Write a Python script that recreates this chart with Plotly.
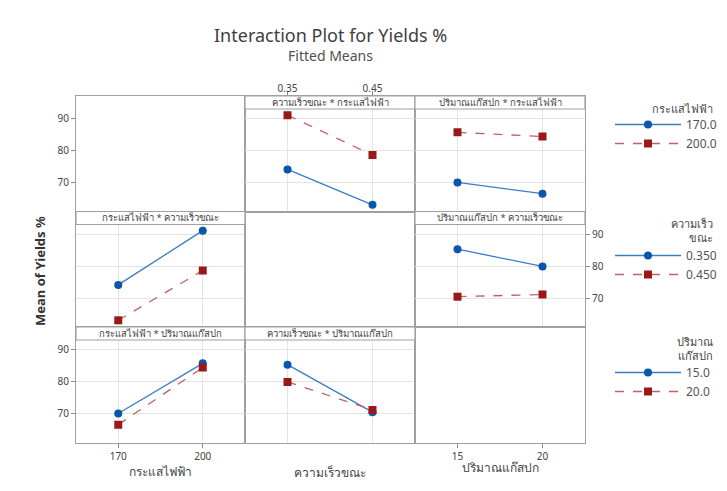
import plotly.graph_objects as go

# Factor levels
current_levels = [170, 200]
speed_levels = [0.35, 0.45]
gas_levels = [15, 20]

current_names = ["170.0", "200.0"]
speed_names = ["0.350", "0.450"]
gas_names = ["15.0", "20.0"]

current_title = "กระแสไฟฟ้า"
speed_title = "ความเร็วขณะ"
gas_title = "ปริมาณแก๊สปก"

# Fitted means for each two-way combination
# mean_current_speed[i][j]: current level i, speed level j
mean_current_speed = [[74.2, 63.1], [91.2, 78.7]]
# mean_current_gas[i][j]: current level i, gas level j
mean_current_gas = [[70.1, 66.6], [85.8, 84.5]]
# mean_speed_gas[i][j]: speed level i, gas level j
mean_speed_gas = [[85.4, 80.0], [70.5, 71.2]]

y_ticks = [70, 80, 90]

W, H = 727, 491
col_px = [(76, 245), (245, 415), (415, 585)]
row_px = [(96, 211.5), (211.5, 327), (327, 442.5)]
strip_h = 13

BLUE_M = "#0A56A8"
BLUE_L = "#3C7CC4"
RED_M = "#9A1818"
RED_L = "#BC6464"
GRID = "#E4E4E4"
FRAME = "#A0A0A0"
TXT = "#444444"
FONT = "Noto Sans, DejaVu Sans, sans-serif"

col_levels = [current_levels, speed_levels, gas_levels]
x_ranges = []
for lv in col_levels:
    span = lv[1] - lv[0]
    x_ranges.append([lv[0] - 0.5 * span, lv[1] + 0.5 * span])
y_range = [61.0, 97.2]


def ax_id(r, c):
    return r * 3 + c + 1


def xref(k):
    return "x" if k == 1 else f"x{k}"


def yref(k):
    return "y" if k == 1 else f"y{k}"


fig = go.Figure()

# (row, col, x levels, series list, names, legend, strip text)
panels = [
    (0, 1, speed_levels, mean_current_speed, current_names, "legend",
     f"{speed_title} * {current_title}"),
    (0, 2, gas_levels, mean_current_gas, current_names, "legend",
     f"{gas_title} * {current_title}"),
    (1, 0, current_levels,
     [[mean_current_speed[0][j], mean_current_speed[1][j]] for j in range(2)],
     speed_names, "legend2", f"{current_title} * {speed_title}"),
    (1, 2, gas_levels, mean_speed_gas, speed_names, "legend2",
     f"{gas_title} * {speed_title}"),
    (2, 0, current_levels,
     [[mean_current_gas[0][j], mean_current_gas[1][j]] for j in range(2)],
     gas_names, "legend3", f"{current_title} * {gas_title}"),
    (2, 1, speed_levels,
     [[mean_speed_gas[0][j], mean_speed_gas[1][j]] for j in range(2)],
     gas_names, "legend3", f"{speed_title} * {gas_title}"),
]

shown = set()
for r, c, xs, series, names, leg, strip in panels:
    k = ax_id(r, c)
    for i, ys in enumerate(series):
        blue = i == 0
        key = (leg, i)
        fig.add_trace(go.Scatter(
            x=xs, y=ys, mode="lines+markers",
            xaxis=xref(k), yaxis=yref(k),
            name=names[i], legend=leg,
            showlegend=key not in shown,
            line=dict(color=BLUE_L if blue else RED_L, width=1.3,
                      dash="solid" if blue else "dash"),
            marker=dict(color=BLUE_M if blue else RED_M,
                        symbol="circle" if blue else "square", size=8),
        ))
        shown.add(key)

data_cells = {(r, c) for r, c, *_ in panels}

# Empty diagonal cells still get a framed subplot
for d in range(3):
    k = ax_id(d, d)
    fig.add_trace(go.Scatter(x=[], y=[], xaxis=xref(k), yaxis=yref(k),
                             showlegend=False, hoverinfo="skip"))

layout = dict(
    width=W, height=H, autosize=False,
    margin=dict(l=0, r=0, t=0, b=0),
    paper_bgcolor="white", plot_bgcolor="white",
    font=dict(family=FONT, color=TXT, size=10),
    shapes=[], annotations=[],
)

for r in range(3):
    for c in range(3):
        k = ax_id(r, c)
        x0, x1 = col_px[c]
        y0, y1 = row_px[r]
        has_data = (r, c) in data_cells
        xa = dict(
            domain=[x0 / W, x1 / W], range=x_ranges[c],
            anchor=yref(k), tickvals=col_levels[c],
            showgrid=has_data, gridcolor=GRID, gridwidth=1,
            zeroline=False, showline=True, mirror=True,
            linecolor=FRAME, linewidth=1.2,
            showticklabels=False, ticks="",
            tickfont=dict(size=10, color=TXT),
        )
        ya = dict(
            domain=[1 - y1 / H, 1 - y0 / H], range=y_range,
            anchor=xref(k), tickvals=y_ticks,
            showgrid=has_data, gridcolor=GRID, gridwidth=1,
            zeroline=False, showline=True, mirror=True,
            linecolor=FRAME, linewidth=1.2,
            showticklabels=False, ticks="",
            tickfont=dict(size=10, color=TXT),
        )
        # Outer tick labels
        if r == 2 and c in (0, 2):
            xa.update(showticklabels=True, ticks="outside", ticklen=4,
                      tickcolor="#888888")
        if r == 0 and c == 1:
            xa.update(showticklabels=True, ticks="outside", ticklen=4,
                      tickcolor="#888888", side="top", tickformat=".2f",
                      ticklabelstandoff=-5)
        if c == 0 and r in (0, 2):
            ya.update(showticklabels=True, ticks="outside", ticklen=4,
                      tickcolor="#888888")
        if c == 2 and r == 1:
            ya.update(showticklabels=True, ticks="outside", ticklen=4,
                      tickcolor="#888888", side="right")
        layout["xaxis" if k == 1 else f"xaxis{k}"] = xa
        layout["yaxis" if k == 1 else f"yaxis{k}"] = ya

# Strip headers over each data panel
for r, c, xs, series, names, leg, strip in panels:
    x0, x1 = col_px[c]
    y0, _ = row_px[r]
    layout["shapes"].append(dict(
        type="rect", xref="paper", yref="paper", layer="above",
        x0=x0 / W, x1=x1 / W, y0=1 - (y0 + strip_h) / H, y1=1 - y0 / H,
        fillcolor="white", line=dict(color=FRAME, width=1.2),
    ))
    layout["annotations"].append(dict(
        text=strip, xref="paper", yref="paper",
        x=(x0 + x1) / 2 / W, y=1 - (y0 + strip_h / 2) / H,
        xanchor="center", yanchor="middle", showarrow=False,
        font=dict(size=9.5, color=TXT),
    ))

# Titles
layout["annotations"] += [
    dict(text="Interaction Plot for Yields %", xref="paper", yref="paper",
         x=330 / W, y=1 - 35 / H, xanchor="center", yanchor="middle",
         showarrow=False, font=dict(size=18, color="#404040")),
    dict(text="Fitted Means", xref="paper", yref="paper",
         x=330 / W, y=1 - 55 / H, xanchor="center", yanchor="middle",
         showarrow=False, font=dict(size=14, color="#505050")),
    dict(text="<b>Mean of Yields %</b>", xref="paper", yref="paper",
         x=40 / W, y=1 - 271 / H, xanchor="center", yanchor="middle",
         textangle=-90, showarrow=False, font=dict(size=13, color="#333333")),
    dict(text=current_title, xref="paper", yref="paper",
         x=160 / W, y=1 - 471 / H, xanchor="center", yanchor="middle",
         showarrow=False, font=dict(size=12, color=TXT)),
    dict(text=speed_title, xref="paper", yref="paper",
         x=330 / W, y=1 - 472 / H, xanchor="center", yanchor="middle",
         showarrow=False, font=dict(size=12, color=TXT)),
    dict(text=gas_title, xref="paper", yref="paper",
         x=500 / W, y=1 - 467 / H, xanchor="center", yanchor="middle",
         showarrow=False, font=dict(size=12, color=TXT)),
]

# Legend headings, right-aligned above each legend block
legend_heads = [
    (current_title, 109),
    ("ความเร็ว<br>ขณะ", 230),
    ("ปริมาณ<br>แก๊สปก", 348),
]
for text, yc in legend_heads:
    layout["annotations"].append(dict(
        text=text, xref="paper", yref="paper", x=715 / W, y=1 - yc / H,
        xanchor="right", yanchor="middle", align="right", showarrow=False,
        font=dict(size=11, color=TXT),
    ))

leg_common = dict(
    xref="paper", yref="paper", xanchor="left", yanchor="top",
    bgcolor="rgba(0,0,0,0)", itemwidth=66, tracegroupgap=0,
    font=dict(size=12, color="#555555"),
)
layout["legend"] = dict(leg_common, x=610 / W, y=1 - 110 / H)
layout["legend2"] = dict(leg_common, x=610 / W, y=1 - 241 / H)
layout["legend3"] = dict(leg_common, x=610 / W, y=1 - 358 / H)

fig.update_layout(**layout)
fig.write_html("out.html")
